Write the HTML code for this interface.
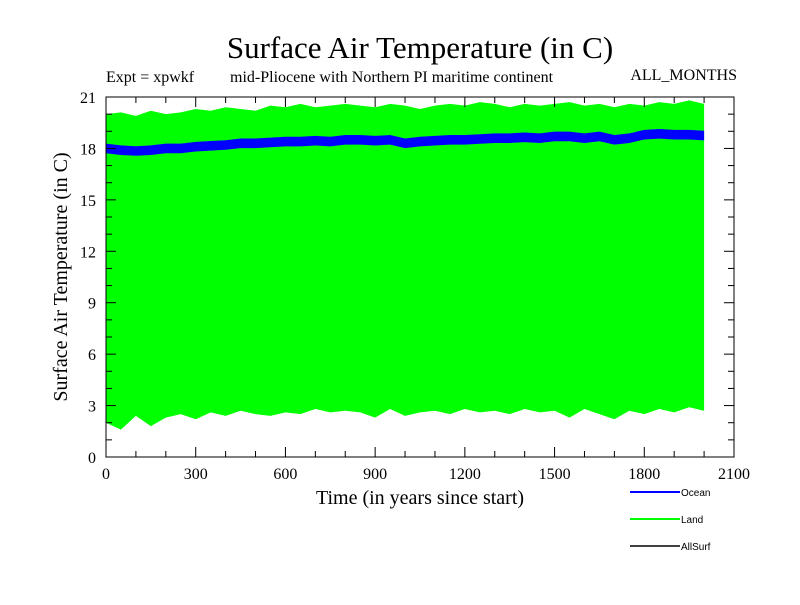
<!DOCTYPE html>
<html><head><meta charset="utf-8"><style>
body{margin:0;background:#fff}
svg text{font-family:"Liberation Serif",serif}
</style></head><body>
<svg id="c" width="800" height="600" xmlns="http://www.w3.org/2000/svg">
<text x="420" y="58" font-size="31" text-anchor="middle">Surface Air Temperature (in C)</text>
<text x="106" y="82" font-size="16">Expt = xpwkf</text>
<text x="230" y="82" font-size="16">mid-Pliocene with Northern PI maritime continent</text>
<text x="737" y="80" font-size="16" text-anchor="end">ALL_MONTHS</text>
<text transform="translate(67,277) rotate(-90)" font-size="20" text-anchor="middle">Surface Air Temperature (in C)</text>
<text x="420" y="504" font-size="20" text-anchor="middle">Time (in years since start)</text>
<g id="plot"></g>
<g>
<line x1="630" y1="492" x2="680" y2="492" stroke="#0000ff" stroke-width="2"/>
<text x="681" y="496" font-size="10" style="font-family:'Liberation Sans',sans-serif">Ocean</text>
<line x1="630" y1="519" x2="680" y2="519" stroke="#00ff00" stroke-width="2"/>
<text x="681" y="523" font-size="10" style="font-family:'Liberation Sans',sans-serif">Land</text>
<line x1="630" y1="546" x2="680" y2="546" stroke="#000" stroke-width="1.5"/>
<text x="681" y="550" font-size="10" style="font-family:'Liberation Sans',sans-serif">AllSurf</text>
</g>
</svg>
<script>
const years=[0,50,100,150,200,250,300,350,400,450,500,550,600,650,700,750,800,850,900,950,1000,1050,1100,1150,1200,1250,1300,1350,1400,1450,1500,1550,1600,1650,1700,1750,1800,1850,1900,1950,2000];
const landMax=[20.0,20.1,19.9,20.2,20.0,20.1,20.3,20.2,20.4,20.3,20.2,20.5,20.4,20.6,20.4,20.5,20.6,20.5,20.4,20.6,20.5,20.3,20.5,20.6,20.5,20.7,20.6,20.4,20.6,20.5,20.6,20.7,20.5,20.6,20.4,20.6,20.5,20.7,20.6,20.8,20.6];
const landMin=[2.0,1.6,2.4,1.8,2.3,2.5,2.2,2.6,2.4,2.7,2.5,2.4,2.6,2.5,2.8,2.6,2.7,2.6,2.3,2.8,2.4,2.6,2.7,2.5,2.8,2.6,2.7,2.5,2.8,2.6,2.7,2.3,2.8,2.5,2.2,2.7,2.5,2.8,2.6,2.9,2.7];
const oceanMean=[18.0,17.9,17.85,17.9,18.0,18.0,18.1,18.15,18.2,18.3,18.3,18.35,18.4,18.4,18.45,18.4,18.5,18.5,18.45,18.5,18.3,18.4,18.45,18.5,18.5,18.55,18.6,18.6,18.65,18.6,18.7,18.7,18.6,18.7,18.5,18.6,18.8,18.85,18.8,18.8,18.75];
const xTicks=[0,300,600,900,1200,1500,1800,2100];
const yTicks=[0,3,6,9,12,15,18,21];
const L=106,R=734,T=97,B=457;
const xs=v=>L+(v-0)/2100*(R-L), ys=v=>B-v/21*(B-T);
const NS="http://www.w3.org/2000/svg", g=document.getElementById('plot');
function mk(t,a){const e=document.createElementNS(NS,t);for(const k in a)e.setAttribute(k,a[k]);g.appendChild(e);return e;}
function band(lo,hi){let p=years.map((y,i)=>xs(y)+','+ys(hi[i]));for(let i=years.length-1;i>=0;i--)p.push(xs(years[i])+','+ys(lo[i]));return p.join(' ');}
let land=mk('polygon',{points:band(landMin,landMax),fill:'#00ff00'});


let oc=mk('polygon',{points:band(oceanMean.map(v=>v-0.28),oceanMean.map(v=>v+0.28)),fill:'#0000ff'});


let fr=mk('rect',{x:L,y:T,width:R-L,height:B-T,fill:'none',stroke:'#000','stroke-width':1});


for(let v=0;v<=2100;v+=100){const maj=v%300===0,x=xs(v),l=maj?10:6;
mk('line',{x1:x,y1:B,x2:x,y2:B-l,stroke:'#000'});mk('line',{x1:x,y1:T,x2:x,y2:T+l,stroke:'#000'});}
for(let v=0;v<=21;v++){const maj=v%3===0,y=ys(v),l=maj?10:6;
mk('line',{x1:L,y1:y,x2:L+l,y2:y,stroke:'#000'});mk('line',{x1:R,y1:y,x2:R-l,y2:y,stroke:'#000'});}
xTicks.forEach(v=>{const t=mk('text',{x:xs(v),y:B+22,'font-size':16,'text-anchor':'middle'});t.textContent=v;

});
yTicks.forEach(v=>{const t=mk('text',{x:L-10,y:ys(v)+6,'font-size':16,'text-anchor':'end'});t.textContent=v;

});
</script>
</body></html>
